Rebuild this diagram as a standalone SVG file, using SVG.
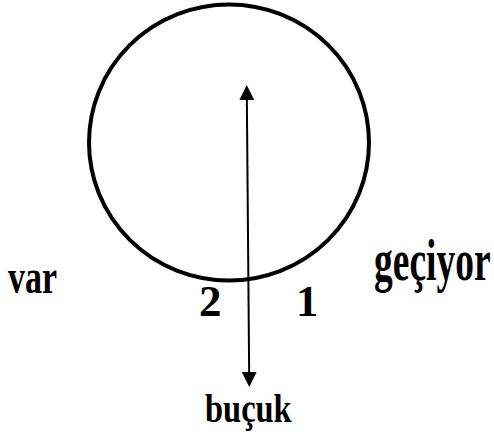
<svg xmlns="http://www.w3.org/2000/svg" width="494" height="437" viewBox="0 0 494 437">
  <style>
    .lbl { font-family: "Liberation Serif", "Times New Roman", serif; font-weight: bold; fill: #000; }
    .num { font-family: "Liberation Serif", "Times New Roman", serif; font-weight: bold; fill: #000; font-size: 45px; }
  </style>
  <defs>
    <marker id="arrow" markerUnits="userSpaceOnUse" markerWidth="16" markerHeight="16" refX="12" refY="7.5" orient="auto-start-reverse">
      <path d="M0,0 L15,7.5 L0,15 z" fill="#000"/>
    </marker>
  </defs>
  <rect width="494" height="437" fill="#fff"/>
  <g id="circle">
    <ellipse cx="229" cy="142.5" rx="140" ry="138" fill="none" stroke="#000" stroke-width="4"/>
  </g>
  <g id="connectors">
    <line x1="246.75" y1="88" x2="249.25" y2="384" stroke="#000" stroke-width="2" marker-start="url(#arrow)" marker-end="url(#arrow)"/>
  </g>
  <g id="label-var">
    <text class="lbl" transform="translate(8,292.5) scale(1,1.45)" font-size="34">var</text>
  </g>
  <g id="label-geciyor">
    <text class="lbl" transform="translate(374,280) scale(1,1.58)" font-size="37.5">geçiyor</text>
  </g>
  <g id="label-bucuk">
    <text class="lbl" transform="translate(205,421.5) scale(1,1.2)" font-size="32.5">buçuk</text>
  </g>
  <g id="label-2">
    <text class="num" x="199" y="316">2</text>
  </g>
  <g id="label-1">
    <text class="num" x="296" y="316">1</text>
  </g>
</svg>
